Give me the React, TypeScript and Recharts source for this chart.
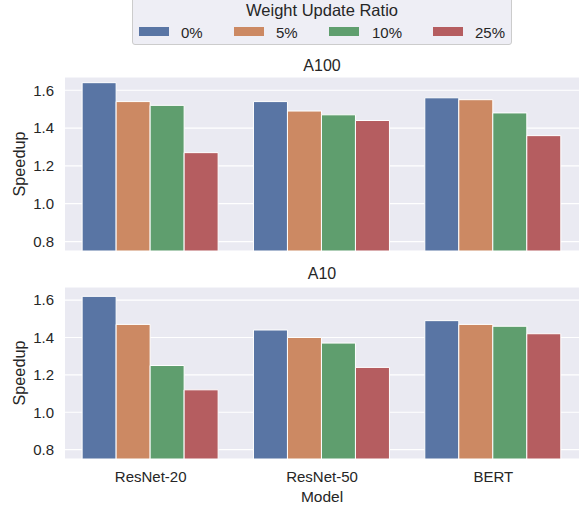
import { BarChart, Bar, XAxis, YAxis, CartesianGrid } from 'recharts';

const models = ['ResNet-20', 'ResNet-50', 'BERT'];
const ratios = ['0%', '5%', '10%', '25%'];
const colors = ['#5975a4', '#cc8963', '#5f9e6e', '#b55d60'];
const yTicks = [0.8, 1.0, 1.2, 1.4, 1.6];

// A100 speedup per weight update ratio (ResNet-20, ResNet-50, BERT)
const a100At0 = [1.64, 1.54, 1.56];
const a100At5 = [1.54, 1.49, 1.55];
const a100At10 = [1.52, 1.47, 1.48];
const a100At25 = [1.27, 1.44, 1.36];

// A10
const a10At0 = [1.62, 1.44, 1.49];
const a10At5 = [1.47, 1.40, 1.47];
const a10At10 = [1.25, 1.37, 1.46];
const a10At25 = [1.12, 1.24, 1.42];

const keys = ['r0', 'r5', 'r10', 'r25'];

function rows(series: number[][]) {
  return models.map((m, i) => {
    const row: Record<string, string | number> = { model: m };
    keys.forEach((k, j) => { row[k] = series[j][i]; });
    return row;
  });
}

const a100Data = rows([a100At0, a100At5, a100At10, a100At25]);
const a10Data = rows([a10At0, a10At5, a10At10, a10At25]);

const FONT = '"Liberation Sans", Arial, sans-serif';
const TEXT = '#262626';
const tick = { fontSize: 15, fill: TEXT, fontFamily: FONT };

function Panel({ data, showX, top, height, marginTop, marginBottom }: {
  data: Record<string, string | number>[]; showX: boolean; top: number; height: number;
  marginTop: number; marginBottom: number;
}) {
  return (
    <div style={{ position: 'absolute', left: 0, top }}>
      <BarChart
        width={582}
        height={height}
        data={data}
        margin={{ top: marginTop, right: 3, bottom: marginBottom, left: 20 }}
        barCategoryGap="10%"
        barGap={0}
      >
        <CartesianGrid vertical={false} stroke="#ffffff" strokeWidth={1.2} fill="#eaeaf2" />
        <XAxis
          dataKey="model"
          hide={!showX}
          height={showX ? 30 : 0}
          axisLine={false}
          tickLine={false}
          tickSize={6}
          tickMargin={6}
          tick={tick}
          interval={0}
        />
        <YAxis
          width={45}
          domain={[0.75, 1.67]}
          ticks={yTicks}
          tickFormatter={(v: number) => v.toFixed(1)}
          axisLine={false}
          tickLine={false}
          tickSize={6}
          tickMargin={5}
          tick={tick}
          allowDataOverflow
        />
        {keys.map((k, j) => (
          <Bar key={k} dataKey={k} name={ratios[j]} fill={colors[j]} stroke="#ffffff" strokeWidth={1} isAnimationActive={false} />
        ))}
      </BarChart>
    </div>
  );
}

function Label({ x, y, children, rotate, size = 16 }: { x: number; y: number; children: string; rotate?: boolean; size?: number }) {
  return (
    <div
      style={{
        position: 'absolute', left: x, top: y, transform: `translate(-50%, -50%)${rotate ? ' rotate(-90deg)' : ''}`,
        fontFamily: FONT, fontSize: size, color: TEXT, whiteSpace: 'nowrap', lineHeight: 1,
      }}
    >
      {children}
    </div>
  );
}

const swatchX = [139, 234, 329, 433];
const legendTextX = [181, 276, 372, 475];

export default function App() {
  return (
    <div style={{ position: 'fixed', left: 0, top: 0, width: 582, height: 507, background: '#ffffff', overflow: 'hidden' }}>
      <Panel data={a100Data} showX={false} top={0} height={260} marginTop={77} marginBottom={9} />
      <Panel data={a10Data} showX top={260} height={247} marginTop={27} marginBottom={18} />

      <Label x={322} y={66}>A100</Label>
      <Label x={322} y={274}>A10</Label>
      <Label x={19} y={164} rotate size={16.3}>Speedup</Label>
      <Label x={19} y={373} rotate size={16.3}>Speedup</Label>
      <Label x={322} y={497} size={15.5}>Model</Label>

      <div
        style={{
          position: 'absolute', left: 132, top: -6, width: 380, height: 51, boxSizing: 'border-box',
          background: 'rgba(234,234,242,0.8)', border: '1px solid #cccccc', borderRadius: 3,
        }}
      />
      <Label x={322} y={10} size={16.5}>Weight Update Ratio</Label>
      {ratios.map((r, i) => (
        <div key={r}>
          <div style={{ position: 'absolute', left: swatchX[i], top: 27, width: 30, height: 9, background: colors[i] }} />
          <div
            style={{
              position: 'absolute', left: legendTextX[i], top: 32, transform: 'translateY(-50%)',
              fontFamily: FONT, fontSize: 15, color: TEXT, lineHeight: 1, whiteSpace: 'nowrap',
            }}
          >
            {r}
          </div>
        </div>
      ))}
    </div>
  );
}
